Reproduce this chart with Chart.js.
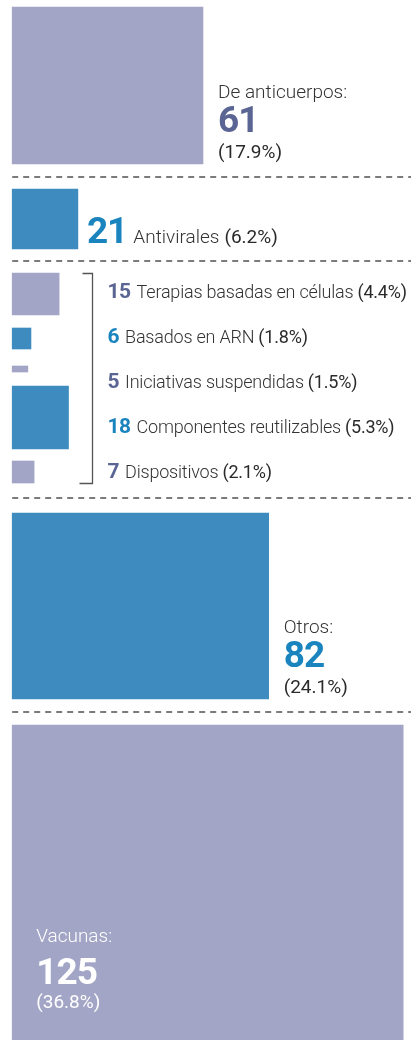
<!DOCTYPE html>
<html>
<head>
<meta charset="utf-8">
<script src="https://cdn.jsdelivr.net/npm/chart.js@4.4.1/dist/chart.umd.min.js"></script>
<style>
  html, body { margin: 0; padding: 0; background: #fff; }
  canvas { display: block; }
</style>
</head>
<body>
<canvas id="chart" width="411" height="1040"></canvas>
<script>
const categories = [
  'De anticuerpos', 'Antivirales', 'Terapias basadas en células', 'Basados en ARN',
  'Iniciativas suspendidas', 'Componentes reutilizables', 'Dispositivos', 'Otros', 'Vacunas'
];
const counts = [61, 21, 15, 6, 5, 18, 7, 82, 125];
const shares = ['17.9%', '6.2%', '4.4%', '1.8%', '1.5%', '5.3%', '2.1%', '24.1%', '36.8%'];

// layout in pixels: top edge and thickness of each block, how its label sits
const boxTop = [7, 189, 273, 328, 366, 386, 461, 513, 725];
const boxHeight = [157, 60, 42, 21, 6, 63, 22, 186, 330];
const labelKind = ['stack', 'inline', 'row', 'row', 'row', 'row', 'row', 'stack', 'inside'];
const separatorsAfter = [0, 1, 6, 7];

const lavender = '#a2a5c5';
const blue = '#3d8bbf';
const boxColors = categories.map((c, i) => i % 2 === 0 ? lavender : blue);
const numColors = categories.map((c, i) => i % 2 === 0 ? '#5a6593' : '#1a84bf');

const FONT = 'Roboto, "Open Sans", sans-serif';

function drawRun(ctx, parts, x, y) {
  parts.forEach(p => {
    ctx.font = p.font;
    ctx.fillStyle = p.color;
    ctx.letterSpacing = p.spacing || '0px';
    x += p.gap || 0;
    ctx.fillText(p.text, x, y);
    x += ctx.measureText(p.text).width;
  });
  ctx.letterSpacing = '0px';
}

const labelPlugin = {
  id: 'blockLabels',
  afterDatasetsDraw(chart) {
    const ctx = chart.ctx;
    const left = chart.scales.x.getPixelForValue(0);
    const yScale = chart.scales.y;
    ctx.save();

    // dashed separators between groups
    ctx.strokeStyle = '#7b7b7b';
    ctx.lineWidth = 2;
    ctx.setLineDash([6, 5]);
    separatorsAfter.forEach(i => {
      const y = Math.round(yScale.getPixelForValue((boxTop[i] + boxHeight[i] + boxTop[i + 1]) / 2));
      ctx.beginPath();
      ctx.moveTo(left, y);
      ctx.lineTo(chart.width, y);
      ctx.stroke();
    });

    // bracket round the small rows
    const rows = labelKind.map((k, i) => k === 'row' ? i : -1).filter(i => i >= 0);
    const first = chart.getDatasetMeta(rows[0]).data[0];
    const last = chart.getDatasetMeta(rows[rows.length - 1]).data[0];
    const bTop = Math.round(first.y - first.height / 2) + 0.5;
    const bBottom = Math.round(last.y + last.height / 2) + 0.5;
    const bx = 92.5;
    ctx.setLineDash([]);
    ctx.lineWidth = 1.3;
    ctx.strokeStyle = '#555';
    ctx.beginPath();
    ctx.moveTo(bx - 10, bTop);
    ctx.lineTo(bx, bTop);
    ctx.lineTo(bx, bBottom);
    ctx.lineTo(bx - 13, bBottom);
    ctx.stroke();

    ctx.textBaseline = 'alphabetic';
    ctx.textAlign = 'left';
    categories.forEach((cat, i) => {
      const bar = chart.getDatasetMeta(i).data[0];
      const top = bar.y - bar.height / 2;
      const bottom = bar.y + bar.height / 2;
      const big = '700 37px ' + FONT;
      const name = '300 19px ' + FONT;
      const pct = '400 19px ' + FONT;
      if (labelKind[i] === 'stack') {
        const x = bar.x + 15;
        drawRun(ctx, [{ text: cat + ':', font: name, color: '#333' }], x, bottom - 66);
        drawRun(ctx, [{ text: String(counts[i]), font: big, color: numColors[i], spacing: '-1px' }], x, bottom - 32);
        drawRun(ctx, [{ text: '(' + shares[i] + ')', font: pct, color: '#2a2a2a' }], x, bottom - 6);
      } else if (labelKind[i] === 'inside') {
        const x = bar.base + 24;
        drawRun(ctx, [{ text: cat + ':', font: name, color: '#fff' }], x, top + 217);
        drawRun(ctx, [{ text: String(counts[i]), font: big, color: '#fff', spacing: '-1px' }], x, top + 259);
        drawRun(ctx, [{ text: '(' + shares[i] + ')', font: pct, color: '#fff' }], x, top + 283);
      } else if (labelKind[i] === 'inline') {
        drawRun(ctx, [
          { text: String(counts[i]), font: big, color: numColors[i], spacing: '-1px' },
          { text: cat, font: name, color: '#333', gap: 6 },
          { text: '(' + shares[i] + ')', font: pct, color: '#2a2a2a', gap: 5 }
        ], bar.x + 9, bottom - 6);
      } else {
        const r = rows.indexOf(i);
        drawRun(ctx, [
          { text: String(counts[i]), font: '700 21px ' + FONT, color: numColors[i], spacing: '-0.5px' },
          { text: cat, font: '300 18px ' + FONT, color: '#333', gap: 6, spacing: '-0.2px' },
          { text: '(' + shares[i] + ')', font: '400 18px ' + FONT, color: '#2a2a2a', gap: 4, spacing: '-0.2px' }
        ], bx + 15, bTop + 24 + r * 45);
      }
    });
    ctx.restore();
  }
};

new Chart(document.getElementById('chart'), {
  type: 'bar',
  data: {
    datasets: categories.map((cat, i) => ({
      label: cat,
      data: [{ x: counts[i], y: boxTop[i] + boxHeight[i] / 2 }],
      backgroundColor: boxColors[i],
      barThickness: boxHeight[i],
      borderWidth: 0,
      stack: 'all'
    }))
  },
  options: {
    indexAxis: 'y',
    responsive: false,
    animation: false,
    layout: { padding: 0 },
    scales: {
      x: { type: 'linear', min: -3.9, max: 127.5, stacked: false, display: false },
      y: { type: 'linear', min: 0, max: 1040, reverse: true, stacked: true, offset: false, display: false }
    },
    plugins: {
      legend: { display: false },
      tooltip: { enabled: false }
    }
  },
  plugins: [labelPlugin]
});
</script>
</body>
</html>
